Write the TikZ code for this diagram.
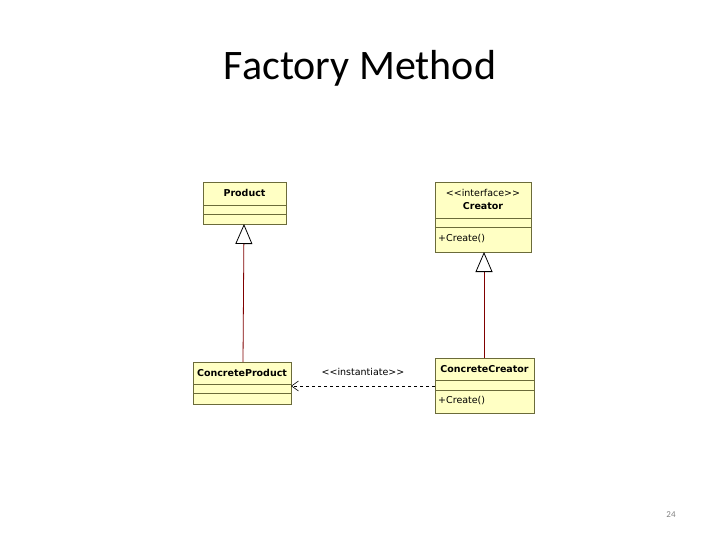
\documentclass[tikz,border=0pt]{standalone}
\usepackage{fontspec}
\setmainfont{Carlito}
\newfontfamily\uml{DejaVu Sans}
\usetikzlibrary{arrows.meta}
\definecolor{boxfill}{HTML}{FFFFC4}
\definecolor{boxline}{HTML}{6B6B3A}
\definecolor{linkred}{HTML}{800000}
\tikzset{
  box/.style={draw=boxline,fill=boxfill,line width=0.8pt},
  sep/.style={draw=boxline,line width=0.8pt},
  inherit/.style={draw=linkred,line width=0.8pt,-{Triangle[open,length=20pt,width=17pt,fill=white,color=black]}},
  dep/.style={draw=black,dashed,line width=0.6pt,-{Straight Barb[length=7pt,width=10pt]}},
  lbl/.style={font=\uml\fontsize{9.5}{11}\selectfont,inner sep=0pt},
  blbl/.style={font=\uml\bfseries\fontsize{9.5}{11}\selectfont,inner sep=0pt}
}
\begin{document}
\begin{tikzpicture}[x=1pt,y=-1pt]
\useasboundingbox (0,0) rectangle (720,540);
\node[font=\fontsize{42}{48}\selectfont] (title) at (360,68) {Factory Method};
\node[font=\fontsize{9}{10}\selectfont,text=gray] (page) at (671,515) {24};
% Product
\draw[box] (203,182) rectangle (286,224);
\draw[sep] (203,205) -- (286,205); \draw[sep] (203,214) -- (286,214);
\node[blbl] (prod) at (244.5,193) {Product};
\coordinate (prodB) at (244,224);
% ConcreteProduct
\draw[box] (193,362) rectangle (291,404);
\draw[sep] (193,384) -- (291,384); \draw[sep] (193,393) -- (291,393);
\node[blbl] (cprod) at (242,373) {ConcreteProduct};
\coordinate (cprodT) at (243,362);
\coordinate (cprodR) at (291,386);
% Creator
\draw[box] (435,182) rectangle (531,252);
\draw[sep] (435,218) -- (531,218); \draw[sep] (435,227) -- (531,227);
\node[lbl] (stereo) at (483,193) {<<interface>>};
\node[blbl] (creator) at (483,206) {Creator};
\node[lbl,anchor=west] (cm) at (438,239) {+Create()};
\coordinate (creB) at (484,252);
% ConcreteCreator
\draw[box] (435,358) rectangle (534,413);
\draw[sep] (435,380) -- (534,380); \draw[sep] (435,390) -- (534,390);
\node[blbl] (ccre) at (484.5,369) {ConcreteCreator};
\node[lbl,anchor=west] (ccm) at (438,401) {+Create()};
\coordinate (ccreT) at (484,358);
\coordinate (ccreL) at (435,386);
% connectors
\draw[inherit] (cprodT) -- (prodB);
\draw[inherit] (ccreT) -- (creB);
\draw[dep] (ccreL) -- (cprodR);
\node[lbl] (inst) at (363,372) {<<instantiate>>};
\end{tikzpicture}
\end{document}
